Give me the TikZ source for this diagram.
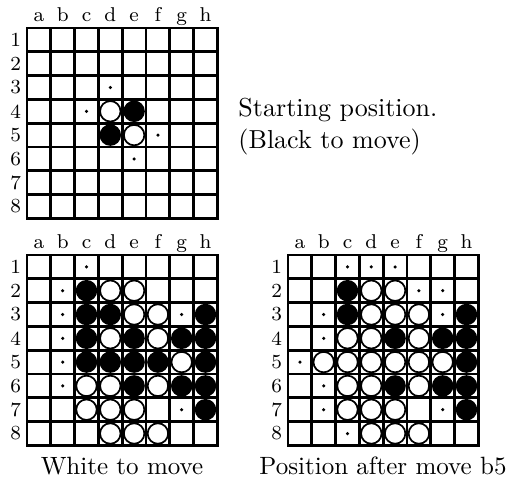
\documentclass[tikz,border=0pt]{standalone}
\begin{document}
\begin{tikzpicture}[
    x=0.4pt, y=-0.4pt,
    font=\fontsize{10}{12.4}\selectfont,
    scacchiera/.style={x=9.52pt,y=-9.52pt},
    riga/.style={line width=1.1pt,line cap=rect},
    etichetta/.style={font=\fontsize{8}{9.6}\selectfont,inner sep=0pt},
    bianca/.style={circle,draw=black,fill=white,line width=0.7pt,inner sep=0pt,minimum size=8.2pt},
    nera/.style={circle,fill=black,inner sep=0pt,minimum size=8.6pt},
    mossa/.style={circle,fill=black,inner sep=0pt,minimum size=1.4pt}]

  \useasboundingbox (0,0) rectangle (508,480);

  % le tre scacchiere: griglia e coordinate
  \foreach \p/\ox/\oy in {A/27/28, B/27/255, C/288/255}{
    \begin{scope}[shift={(\ox,\oy)},scacchiera]
      \foreach \i in {0,...,8}{
        \draw[riga] (\i,0) -- (\i,8);
        \draw[riga] (0,\i) -- (8,\i);
      }
      \foreach \l [count=\i] in {a,b,c,d,e,f,g,h}
        \node[etichetta,anchor=base] (\p-\l) at (\i-0.5,-0.28) {\l};
      \foreach \j in {1,...,8}
        \node[etichetta] (\p-\j) at (-0.48,\j-0.5) {\j};
    \end{scope}
  }

  % posizione iniziale
  \begin{scope}[shift={(27,28)},scacchiera]
    \foreach \c/\r in {4/3,3/4,6/5,5/6}  \node[mossa]  (A-m\c\r) at (\c-0.5,\r-0.5) {};
    \foreach \c/\r in {4/4,5/5}          \node[bianca] (A-b\c\r) at (\c-0.5,\r-0.5) {};
    \foreach \c/\r in {5/4,4/5}          \node[nera]   (A-n\c\r) at (\c-0.5,\r-0.5) {};
  \end{scope}

  \node[anchor=west,align=left,inner sep=0pt,font=\fontsize{10.4}{12.8}\selectfont] (testo) at (238,127)
    {Starting position.\\(Black to move)};

  % muove il bianco
  \begin{scope}[shift={(27,255)},scacchiera]
    \foreach \c/\r in {3/1,2/2,2/3,7/3,2/4,2/5,2/6,7/7}
      \node[mossa] (B-m\c\r) at (\c-0.5,\r-0.5) {};
    \foreach \c/\r in {4/2,5/2,5/3,6/3,4/4,6/4,7/5,3/6,4/6,6/6,3/7,4/7,5/7,4/8,5/8,6/8}
      \node[bianca] (B-b\c\r) at (\c-0.5,\r-0.5) {};
    \foreach \c/\r in {3/2,3/3,4/3,8/3,3/4,5/4,7/4,8/4,3/5,4/5,5/5,6/5,8/5,5/6,7/6,8/6,8/7}
      \node[nera] (B-n\c\r) at (\c-0.5,\r-0.5) {};
  \end{scope}

  \node (didaB) at (122,466) {White to move};

  % dopo la mossa b5
  \begin{scope}[shift={(288,255)},scacchiera]
    \foreach \c/\r in {3/1,4/1,5/1,6/2,7/2,2/3,7/3,2/4,1/5,2/6,2/7,7/7,3/8}
      \node[mossa] (C-m\c\r) at (\c-0.5,\r-0.5) {};
    \foreach \c/\r in {4/2,5/2,4/3,5/3,6/3,3/4,4/4,6/4,2/5,3/5,4/5,5/5,6/5,7/5,3/6,4/6,6/6,3/7,4/7,5/7,4/8,5/8,6/8}
      \node[bianca] (C-b\c\r) at (\c-0.5,\r-0.5) {};
    \foreach \c/\r in {3/2,3/3,8/3,5/4,7/4,8/4,8/5,5/6,7/6,8/6,8/7}
      \node[nera] (C-n\c\r) at (\c-0.5,\r-0.5) {};
  \end{scope}

  \node (didaC) at (383,466) {Position after move b5};

\end{tikzpicture}
\end{document}
